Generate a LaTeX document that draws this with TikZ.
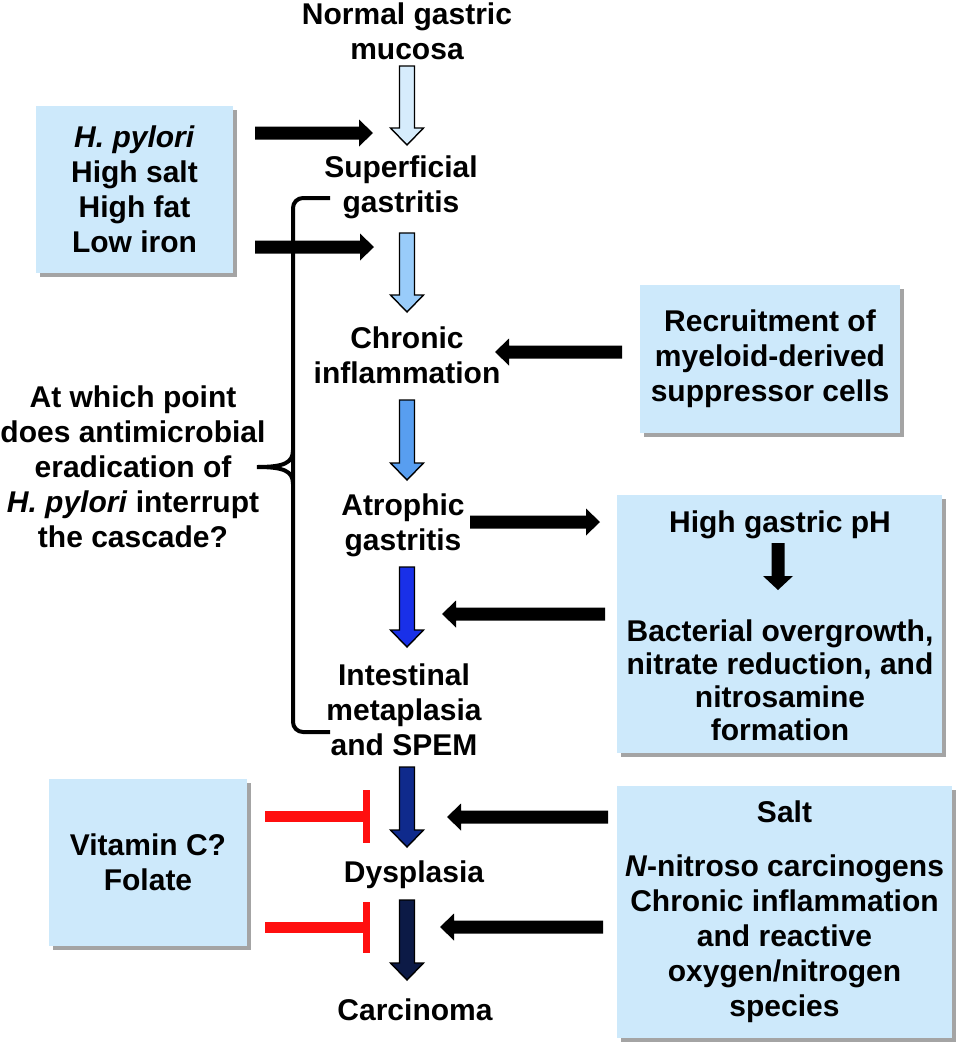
\documentclass[tikz,border=0pt]{standalone}
\usepackage{fontspec}
\setmainfont{Liberation Sans}
\usetikzlibrary{shadows,calc}
\definecolor{boxblue}{RGB}{205,233,251}
\definecolor{cA}{RGB}{214,236,252}
\definecolor{cB}{RGB}{153,204,250}
\definecolor{cC}{RGB}{88,158,240}
\definecolor{cD}{RGB}{25,48,232}
\definecolor{cE}{RGB}{15,42,140}
\definecolor{cF}{RGB}{12,26,70}
\definecolor{inhred}{RGB}{255,15,15}
% outlined fat down arrow between two named coordinates
\newcommand\fatdn[3]{%
  \filldraw[fill=#3, draw=black, line width=1.4pt, line join=miter]
  let \p1=(#1), \p2=(#2) in
  (\x1-7.5pt,\y1) -- (\x1+7.5pt,\y1) -- (\x1+7.5pt,\y2+17pt) -- (\x1+16.5pt,\y2+17pt)
  -- (\x1,\y2) -- (\x1-16.5pt,\y2+17pt) -- (\x1-7.5pt,\y2+17pt) -- cycle;}
% black horizontal arrow from start to tip
\newcommand\blkh[2]{%
  \fill[black] let \p1=(#1), \p2=(#2), \p3=($(#2)!14pt!(#1)$) in
  (\x1,\y1+6.5pt) -- (\x3,\y1+6.5pt) -- (\x3,\y1+13.5pt)
  -- (\x2,\y1) -- (\x3,\y1-13.5pt) -- (\x3,\y1-6.5pt)
  -- (\x1,\y1-6.5pt) -- cycle;}
% black vertical (down) arrow
\newcommand\blkv[2]{%
  \fill[black] let \p1=(#1), \p2=(#2) in
  (\x1-6.5pt,\y1) -- (\x1+6.5pt,\y1) -- (\x1+6.5pt,\y2+14pt) -- (\x1+15pt,\y2+14pt)
  -- (\x1,\y2) -- (\x1-15pt,\y2+14pt) -- (\x1-6.5pt,\y2+14pt) -- cycle;}
\begin{document}
\begin{tikzpicture}[x=1pt,y=-1pt,
  lbl/.style={font=\fontsize{30}{35}\selectfont\bfseries, align=center, inner sep=0pt},
  box/.style={fill=boxblue, draw=none,
    drop shadow={shadow xshift=4pt, shadow yshift=-4pt, fill=black!55, opacity=.65}},
  brace/.style={line width=4pt, rounded corners=10pt},
  inhline/.style={draw=inhred, line width=11pt},
  inhbar/.style={draw=inhred, line width=7pt}]
\useasboundingbox (0,0) rectangle (962,1050);

% ---- boxes ----
\node[box, lbl, minimum width=197pt, minimum height=167pt] (hp) at (134.5,189.5)
  {\textit{H. pylori}\\High salt\\High fat\\Low iron};
\node[box, lbl, minimum width=260pt, minimum height=148pt] (recruit) at (770,359)
  {Recruitment of\\myeloid-derived\\suppressor cells};
\node[box, minimum width=325pt, minimum height=258pt] (phbox) at (779.5,624) {};
\node[lbl] (ph) at (780,525) {High gastric pH};
\node[lbl, font=\fontsize{30}{33}\selectfont\bfseries] (bact) at (780,680)
  {Bacterial overgrowth,\\nitrate reduction, and\\nitrosamine\\formation};
\node[box, lbl, minimum width=198pt, minimum height=167pt] (vit) at (148,862.5)
  {Vitamin C?\\Folate};
\node[box, lbl, minimum width=335pt, minimum height=252pt] (salt) at (784.5,912)
  {Salt\\[19pt]\textit{N}-nitroso carcinogens\\Chronic inflammation\\and reactive\\oxygen/nitrogen\\species};

% ---- cascade labels ----
\node[lbl] (normal) at (407,31.5) {Normal gastric\\mucosa};
\node[lbl] (superf) at (401,187.5) {Superficial\\gastritis};
\node[lbl] (chronic) at (407,355) {Chronic\\inflammation};
\node[lbl] (atroph) at (403,525) {Atrophic\\gastritis};
\node[lbl] (intest) at (404,710) {Intestinal\\metaplasia\\and SPEM};
\node[lbl] (dysp) at (414,875) {Dysplasia};
\node[lbl] (carc) at (415,1010) {Carcinoma};
\node[lbl] (question) at (133,467)
  {At which point\\does antimicrobial\\eradication of\\\textit{H. pylori} interrupt\\the cascade?};

% ---- cascade arrows ----
\coordinate (a1s) at (407,66);  \coordinate (a1e) at (407,145);
\coordinate (a2s) at (407,233); \coordinate (a2e) at (407,312);
\coordinate (a3s) at (407,400); \coordinate (a3e) at (407,480);
\coordinate (a4s) at (407,567); \coordinate (a4e) at (407,647);
\coordinate (a5s) at (407,767); \coordinate (a5e) at (407,847);
\coordinate (a6s) at (407,900); \coordinate (a6e) at (407,980);
\fatdn{a1s}{a1e}{cA}
\fatdn{a2s}{a2e}{cB}
\fatdn{a3s}{a3e}{cC}
\fatdn{a4s}{a4e}{cD}
\fatdn{a5s}{a5e}{cE}
\fatdn{a6s}{a6e}{cF}

% ---- black arrows ----
\coordinate (b1s) at (255,133); \coordinate (b1e) at (373,133);
\coordinate (b2s) at (255,247); \coordinate (b2e) at (374,247);
\coordinate (b3s) at (622,352); \coordinate (b3e) at (495,352);
\coordinate (b4s) at (470,522); \coordinate (b4e) at (600,522);
\coordinate (b5s) at (605,614); \coordinate (b5e) at (442,614);
\coordinate (b6s) at (608,817); \coordinate (b6e) at (447,817);
\coordinate (b7s) at (603,927); \coordinate (b7e) at (440,927);
\blkh{b1s}{b1e}
\blkh{b2s}{b2e}
\blkh{b3s}{b3e}
\blkh{b4s}{b4e}
\blkh{b5s}{b5e}
\blkh{b6s}{b6e}
\blkh{b7s}{b7e}
\coordinate (phs) at (778,543); \coordinate (phe) at (778,590);
\blkv{phs}{phe}

% ---- inhibitors ----
\coordinate (r1s) at (265,816); \coordinate (r1e) at (370,816);
\coordinate (r2s) at (265,927); \coordinate (r2e) at (370,927);
\draw[inhline] (r1s) -- (r1e);
\draw[inhbar] ($(r1e)+(-3.5,-26)$) -- ($(r1e)+(-3.5,27)$);
\draw[inhline] (r2s) -- (r2e);
\draw[inhbar] ($(r2e)+(-3.5,-25)$) -- ($(r2e)+(-3.5,26)$);

% ---- bracket ----
\draw[brace] (330,198) -- (293,198) -- (293,732) -- (330,732);
\draw[line width=4pt] (293,450) .. controls (293,463) and (284,467) .. (257,467)
  .. controls (284,467) and (293,471) .. (293,484);
\end{tikzpicture}
\end{document}
